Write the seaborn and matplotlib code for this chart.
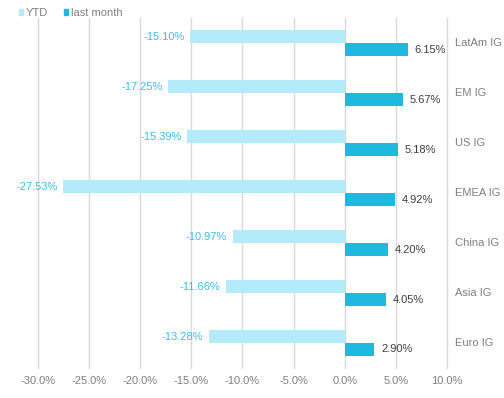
import pandas as pd
import matplotlib
matplotlib.use("Agg")
import matplotlib.pyplot as plt
import seaborn as sns
from matplotlib.ticker import FuncFormatter
from matplotlib.patches import Patch

# Data
categories = ["LatAm IG", "EM IG", "US IG", "EMEA IG", "China IG", "Asia IG", "Euro IG"]
ytd = [-15.10, -17.25, -15.39, -27.53, -10.97, -11.66, -13.28]
last_month = [6.15, 5.67, 5.18, 4.92, 4.20, 4.05, 2.90]
series = ["YTD", "last month"]

df = pd.DataFrame({
    "Category": categories * 2,
    "Return": ytd + last_month,
    "Series": [series[0]] * len(categories) + [series[1]] * len(categories),
})

sns.set_style("white")
plt.rcParams["font.family"] = ["Liberation Sans", "DejaVu Sans"]

colors = {"YTD": "#b3ebfb", "last month": "#1fb9e0"}

fig = plt.figure(figsize=(5.04, 3.98), dpi=100)
ax = fig.add_axes([0.0754, 0.0754, 0.8115, 0.879])

sns.barplot(
    data=df, y="Category", x="Return", hue="Series", order=categories,
    hue_order=series, palette=colors, orient="h", width=0.52, ax=ax,
    saturation=1, legend=False, linewidth=0,
)

ax.set_xlim(-30, 10)
ax.set_xticks(range(-30, 11, 5))
ax.xaxis.set_major_formatter(FuncFormatter(lambda v, p: f"{v:.1f}%"))
ax.tick_params(axis="x", colors="#7f7f7f", labelsize=8, length=0, pad=6)
ax.set_yticks([])
ax.set_xlabel("")
ax.set_ylabel("")
ax.grid(axis="x", color="#d9d9d9", linewidth=1)
for gl in ax.get_xgridlines():
    gl.set_clip_on(False)
ax.set_axisbelow(True)
for s in ax.spines.values():
    s.set_visible(False)

# value labels
for i, cat in enumerate(categories):
    ax.annotate(f"{ytd[i]:.2f}%", (ytd[i], i - 0.13), xytext=(-4, 0),
                textcoords="offset points", ha="right", va="center",
                fontsize=8, color="#3bbfe6")
    ax.annotate(f"{last_month[i]:.2f}%", (last_month[i], i + 0.13), xytext=(5, 0),
                textcoords="offset points", ha="left", va="center",
                fontsize=8, color="#404040")
    ax.annotate(cat, (10, i), xytext=(6, 0), textcoords="offset points",
                ha="left", va="center", fontsize=8, color="#7f7f7f",
                annotation_clip=False)

# legend
handles = [Patch(color=colors[s]) for s in series]
fig.legend(handles, series, loc="center left", bbox_to_anchor=(19 / 504, 1 - 13 / 398),
           ncol=2, frameon=False, fontsize=8, labelcolor="#7f7f7f",
           handlelength=0.4, handleheight=0.4, handletextpad=0.2,
           columnspacing=1.45, borderpad=0, borderaxespad=0)

fig.savefig("out.png", dpi=100)
